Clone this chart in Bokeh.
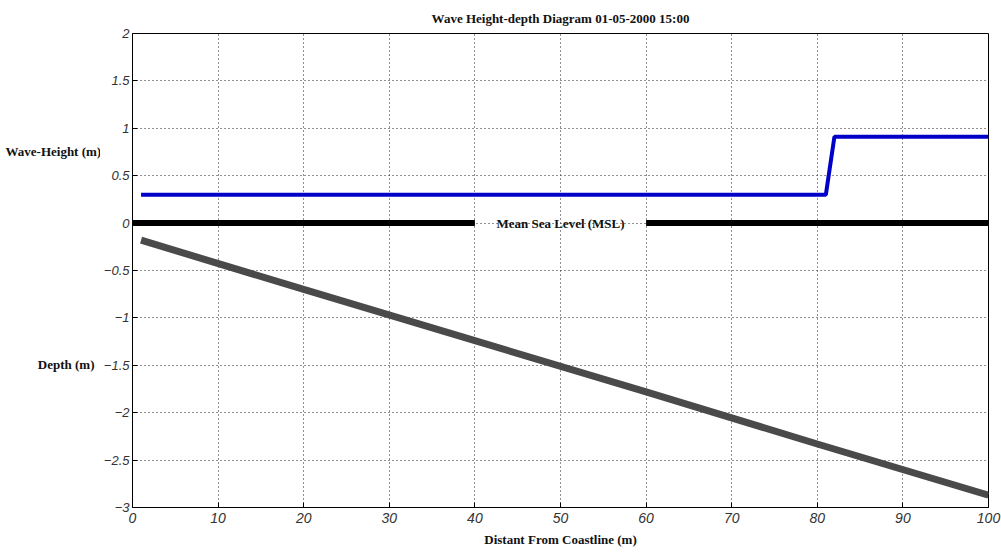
from bokeh.plotting import figure
from bokeh.layouts import row
from bokeh.models import Range1d, FixedTicker, Label
from bokeh.embed import file_html
from bokeh.resources import INLINE

# data
wave_x = [1, 81, 82, 100]
wave_h = [0.30, 0.30, 0.91, 0.91]
msl_left_x = [0, 40]
msl_right_x = [60, 100]
msl_y = [0, 0]
depth_x = [1, 20, 40, 60, 80, 100]
depth_y = [-0.18, -0.70, -1.24, -1.78, -2.33, -2.87]
x_ticks = [0, 10, 20, 30, 40, 50, 60, 70, 80, 90, 100]
y_ticks = [-3, -2.5, -2, -1.5, -1, -0.5, 0, 0.5, 1, 1.5, 2]

SERIF = "Liberation Serif"
SANS = "Liberation Sans"
TOP, BOTTOM = 33, 46
LEFT_W = 100

yr = Range1d(-3, 2)

# left panel holding the free-standing axis titles
side = figure(width=LEFT_W, height=553, output_backend="svg", toolbar_location=None,
              x_range=Range1d(0, LEFT_W), y_range=yr,
              min_border_left=0, min_border_right=0, min_border_top=TOP, min_border_bottom=BOTTOM,
              x_axis_location=None, y_axis_location=None)
side.outline_line_color = None
side.xgrid.visible = False
side.ygrid.visible = False
side.add_layout(Label(x=5, y=0.76, text="Wave-Height (m)", text_font=SERIF,
                      text_font_style="bold", text_font_size="13px", text_align="left",
                      text_baseline="middle", text_color="#111111"))
side.add_layout(Label(x=94, y=-1.49, text="Depth (m)", text_font=SERIF,
                      text_font_style="bold", text_font_size="13px", text_align="right",
                      text_baseline="middle", text_color="#111111"))

p = figure(width=1001 - LEFT_W, height=553, output_backend="svg", toolbar_location=None,
           x_range=Range1d(0, 100), y_range=yr,
           min_border_left=131 - LEFT_W, min_border_right=13, min_border_top=TOP,
           min_border_bottom=BOTTOM,
           title="Wave Height-depth Diagram 01-05-2000 15:00")
p.title.align = "center"
p.title.text_font = SERIF
p.title.text_font_style = "bold"
p.title.text_font_size = "13px"
p.title.text_color = "#111111"
p.title.standoff = 16
p.background_fill_color = "white"
p.border_fill_color = "white"
p.outline_line_color = "black"
p.outline_line_width = 1

for ax, ticks in ((p.xaxis[0], x_ticks), (p.yaxis[0], y_ticks)):
    ax.ticker = FixedTicker(ticks=ticks)
    ax.major_tick_in = 5
    ax.major_tick_out = 0
    ax.minor_tick_line_color = None
    ax.axis_line_color = "black"
    ax.major_tick_line_color = "black"
    ax.major_label_text_font = SANS
    ax.major_label_text_font_style = "italic"
    ax.major_label_text_font_size = "13px"
    ax.major_label_text_color = "#333333"
    ax.major_label_standoff = 3

p.xaxis.major_label_text_font_size = "14px"
p.xaxis.major_label_standoff = 5
p.xaxis.axis_label = "Distant From Coastline (m)"
p.xaxis.axis_label_text_font = SERIF
p.xaxis.axis_label_text_font_style = "bold"
p.xaxis.axis_label_text_font_size = "13px"
p.xaxis.axis_label_text_color = "#111111"
p.xaxis.axis_label_standoff = 6

for g, ticks in ((p.xgrid, x_ticks), (p.ygrid, y_ticks)):
    g.ticker = FixedTicker(ticks=ticks)
    g.grid_line_color = "#222222"
    g.grid_line_dash = "1 3"
    g.grid_line_width = 1

# lines
p.line(depth_x, depth_y, line_color="#4a4a4a", line_width=7)
p.line(msl_left_x, msl_y, line_color="black", line_width=6)
p.line(msl_right_x, msl_y, line_color="black", line_width=6)
p.line(wave_x, wave_h, line_color="#0000c8", line_width=4)

p.add_layout(Label(x=50, y=0, text="Mean Sea Level (MSL)", text_font=SERIF,
                   text_font_style="bold", text_font_size="13px", text_align="center",
                   text_baseline="middle", text_color="#111111"))

layout = row(side, p, spacing=0)
open("out.html", "w").write(file_html(layout, INLINE))
